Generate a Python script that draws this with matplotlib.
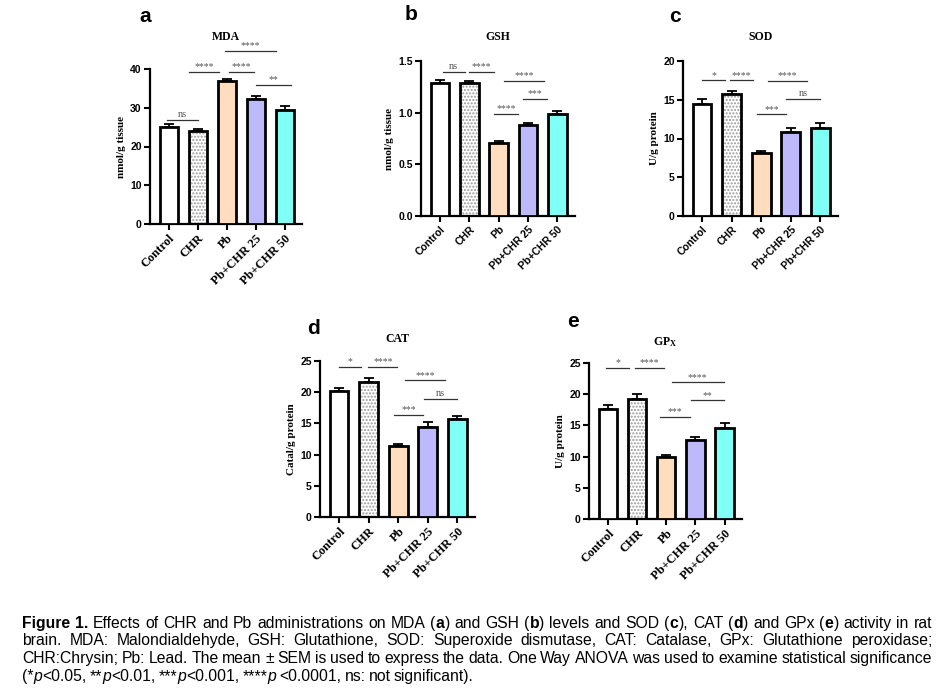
import matplotlib
matplotlib.use('Agg')
import matplotlib.pyplot as plt

plt.rcParams['mathtext.fontset'] = 'custom'
plt.rcParams['mathtext.rm'] = 'Liberation Serif'
plt.rcParams['mathtext.bf'] = 'Liberation Serif:bold'

SERIF = 'Liberation Serif'
SANS = 'Liberation Sans'

groups = ['Control', 'CHR', 'Pb', 'Pb+CHR 25', 'Pb+CHR 50']

mda = [25.0, 23.9, 36.8, 32.3, 29.5]
mda_err = [0.8, 0.7, 0.7, 0.7, 0.9]
gsh = [1.29, 1.29, 0.71, 0.877, 0.99]
gsh_err = [0.03, 0.02, 0.02, 0.025, 0.03]
sod = [14.5, 15.7, 8.1, 10.8, 11.4]
sod_err = [0.55, 0.45, 0.35, 0.6, 0.6]
cat = [20.2, 21.6, 11.4, 14.5, 15.7]
cat_err = [0.5, 0.7, 0.3, 0.75, 0.55]
gpx = [17.7, 19.3, 10.0, 12.6, 14.6]
gpx_err = [0.5, 0.7, 0.3, 0.6, 0.8]

# significance brackets: (from, to, height, label)
mda_sig = [(-0.06, 1.0, 26.9, 'ns'), (0.69, 1.75, 39.3, '****'),
           (2.08, 2.93, 39.3, '****'), (1.95, 3.71, 44.6, '****'),
           (3.02, 4.23, 35.9, '**')]
gsh_sig = [(0.09, 0.85, 1.397, 'ns'), (1.0, 1.83, 1.397, '****'),
           (2.17, 3.55, 1.31, '****'), (2.83, 3.65, 1.135, '***'),
           (1.83, 2.65, 0.987, '****')]
sod_sig = [(0.0, 0.78, 17.5, '*'), (0.94, 1.73, 17.5, '****'),
           (2.22, 3.55, 17.4, '****'), (2.85, 3.99, 15.1, 'ns'),
           (1.84, 2.85, 13.1, '***')]
cat_sig = [(0.0, 0.74, 24.1, '*'), (0.99, 1.97, 24.1, '****'),
           (2.22, 3.6, 21.9, '****'), (2.86, 4.0, 18.9, 'ns'),
           (1.86, 2.84, 16.4, '***')]
gpx_sig = [(-0.05, 0.73, 24.2, '*'), (0.94, 1.91, 24.2, '****'),
           (2.19, 3.97, 21.9, '****'), (2.86, 3.97, 19.0, '**'),
           (1.8, 2.82, 16.4, '***')]

colors = ['white', 'white', '#FFDDBE', '#BDB9FA', '#7FFFF6']

W, H = 945, 694
fig = plt.figure(figsize=(W / 100, H / 100), dpi=100)


def px_axes(left, bottom, right, top):
    return fig.add_axes([left / W, (H - bottom) / H, (right - left) / W, (bottom - top) / H])


def panel(ax, vals, errs, sig, ymax, step, ylabel, tickfont):
    x = list(range(len(groups)))
    # dotted fill for CHR
    ax.bar(x[1], vals[1], width=0.63, color='white', edgecolor='#999999',
           hatch='.....', linewidth=0, zorder=2)
    ax.bar(x, vals, width=0.63, color=[c if i != 1 else 'none' for i, c in enumerate(colors)],
           edgecolor='black', linewidth=2.0, zorder=3)
    ax.errorbar(x, vals, yerr=[[0] * len(errs), errs], fmt='none', ecolor='black',
                elinewidth=1.3, capsize=3.5, capthick=1.3, zorder=1)
    ax.set_xlim(-0.65, 4.6)
    ax.set_ylim(0, ymax)
    ax.set_yticks([i * step for i in range(int(round(ymax / step)) + 1)])
    if step < 1:
        ax.set_yticklabels(['%.1f' % t for t in ax.get_yticks()])
    for s in ['top', 'right']:
        ax.spines[s].set_visible(False)
    for s in ['left', 'bottom']:
        ax.spines[s].set_linewidth(1.6)
    ax.tick_params(width=1.5, length=4, direction='out', pad=2)
    ax.set_xticks(x)
    if tickfont == SERIF:
        ax.set_xticklabels(groups, rotation=45, ha='right', rotation_mode='anchor',
                           fontfamily=SERIF, fontweight='bold', fontsize=9)
    else:
        ax.set_xticklabels(groups, rotation=45, ha='right', rotation_mode='anchor',
                           fontfamily=SANS, fontweight='bold', fontsize=7.5)
    for lab in ax.get_yticklabels():
        lab.set_fontfamily(SANS)
        lab.set_fontweight('bold')
        lab.set_fontsize(7.5)
    ax.set_ylabel(ylabel, fontfamily=SERIF, fontweight='bold', fontsize=8, labelpad=3)
    for x0, x1, y, lab in sig:
        ax.plot([x0, x1], [y, y], color='#333333', linewidth=0.9, clip_on=False, zorder=4)
        ax.annotate(lab, xy=((x0 + x1) / 2, y), xytext=(0, 0.5), textcoords='offset points',
                    ha='center', va='bottom', fontfamily=SERIF,
                    fontsize=7.5 if lab == 'ns' else 7, color='#555555',
                    annotation_clip=False)


def label_panel(ax, title, title_y, letter, lx, ly):
    bb = ax.get_position()
    fig.text((bb.x0 + bb.x1) / 2, 1 - title_y / H, title, fontfamily=SERIF,
             fontweight='bold', fontsize=8.5, ha='center', va='center')
    fig.text(lx / W, 1 - ly / H, letter, fontfamily=SANS, fontweight='bold',
             fontsize=15, ha='center', va='center')


ax_a = px_axes(150, 224, 302, 69)
panel(ax_a, mda, mda_err, mda_sig, 40, 10, 'nmol/g tissue', SERIF)
label_panel(ax_a, 'MDA', 37, 'a', 145, 16)
ax_b = px_axes(421, 216, 575, 61)
panel(ax_b, gsh, gsh_err, gsh_sig, 1.5, 0.5, 'nmol/g tissue', SANS)
label_panel(ax_b, 'GSH', 37, 'b', 411, 15)
ax_c = px_axes(683, 216, 838, 61)
panel(ax_c, sod, sod_err, sod_sig, 20, 5, 'U/g protein', SANS)
label_panel(ax_c, 'SOD', 37, 'c', 675, 16)
ax_d = px_axes(320, 517, 475, 361)
panel(ax_d, cat, cat_err, cat_sig, 25, 5, 'Catal/g protein', SERIF)
label_panel(ax_d, 'CAT', 339, 'd', 313, 329)
ax_e = px_axes(589, 519, 742, 363)
panel(ax_e, gpx, gpx_err, gpx_sig, 25, 5, 'U/g protein', SERIF)
label_panel(ax_e, r'$\mathbf{GP_X}$', 342, 'e', 573, 322)

# caption, justified like the journal text; '#' toggles bold, '~' toggles italic
caption = [
    "#Figure 1.# Effects of CHR and Pb administrations on MDA (#a#) and GSH (#b#) levels and SOD (#c#), CAT (#d#) and GPx (#e#) activity in rat",
    "brain. MDA: Malondialdehyde, GSH: Glutathione, SOD: Superoxide dismutase, CAT: Catalase, GPx: Glutathione peroxidase;",
    "CHR:Chrysin; Pb: Lead. The mean \u00b1 SEM is used to express the data. One Way ANOVA was used to examine statistical significance",
    "(*~p~<0.05, **~p~<0.01, ***~p~<0.001, ****~p~ <0.0001, ns: not significant).",
]
cap_base = [628, 645, 663, 681]
cap_left, cap_right = 22, 932
cap_size = 11.3

renderer = fig.canvas.get_renderer()


def parse_words(line, state):
    words = []
    cur = []
    seg = ''
    for ch in line:
        if ch in '#~ ':
            if seg:
                cur.append((seg, state['b'], state['i']))
                seg = ''
            if ch == '#':
                state['b'] = not state['b']
            elif ch == '~':
                state['i'] = not state['i']
            else:
                if cur:
                    words.append(cur)
                cur = []
        else:
            seg += ch
    if seg:
        cur.append((seg, state['b'], state['i']))
    if cur:
        words.append(cur)
    return words


state = {'b': False, 'i': False}
for k, line in enumerate(caption):
    words = parse_words(line, state)
    items = []
    total = 0
    for w in words:
        segs = []
        wlen = 0
        for s, b, it in w:
            t = fig.text(0, 1 - cap_base[k] / H, s, fontfamily=SANS, fontsize=cap_size,
                         fontweight='bold' if b else 'normal',
                         fontstyle='italic' if it else 'normal', va='baseline', ha='left')
            bb = t.get_window_extent(renderer=renderer)
            segs.append((t, bb.width))
            wlen += bb.width
        items.append(segs)
        total += wlen
    if k < len(caption) - 1:
        gap = (cap_right - cap_left - total) / (len(items) - 1)
    else:
        gap = 3.2
    xpos = cap_left
    for segs in items:
        for t, wd in segs:
            t.set_x(xpos / W)
            xpos += wd
        xpos += gap

fig.savefig('out.png', dpi=100)
